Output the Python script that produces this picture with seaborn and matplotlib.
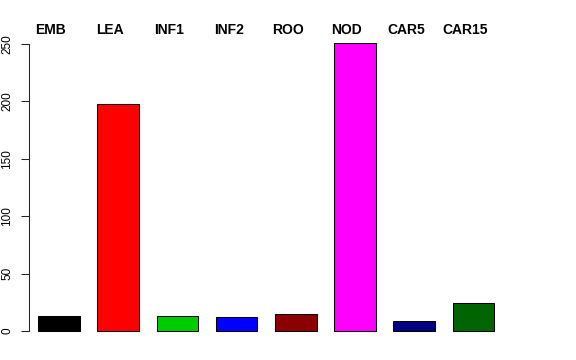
import matplotlib
matplotlib.use("Agg")
import matplotlib.pyplot as plt
import seaborn as sns
import pandas as pd

categories = ["EMB", "LEA", "INF1", "INF2", "ROO", "NOD", "CAR5", "CAR15"]
values = [13, 198, 13, 12, 14.5, 251, 9, 24]
colors = ["#000000", "#FF0000", "#00CD00", "#0000FF", "#8B0000", "#FF00FF", "#000080", "#006400"]
yticks = [0, 50, 100, 150, 200, 250]

sns.set_style("white")
plt.rcParams["font.family"] = ["Liberation Sans", "DejaVu Sans"]
plt.rcParams["text.color"] = "black"
plt.rcParams["ytick.color"] = "black"
plt.rcParams["ytick.labelcolor"] = "black"

df = pd.DataFrame({"cat": categories, "val": values})

fig = plt.figure(figsize=(5.76, 3.6), dpi=100)
ax = fig.add_axes([29 / 576, (360 - 342) / 360, (512 - 29) / 576, (342 - 31) / 360])

sns.barplot(data=df, x="cat", y="val", hue="cat", palette=colors, order=categories,
            hue_order=categories, width=0.7, edgecolor="black", linewidth=0.75,
            legend=False, ax=ax, saturation=1)

px = 59.2
ax.set_xlim(-(59 - 29) / px, -(59 - 29) / px + (512 - 29) / px)
ax.set_ylim(-(342 - 331) / 1.148, (331 - 31) / 1.148)

for s in ["top", "right", "bottom"]:
    ax.spines[s].set_visible(False)
ax.spines["left"].set_bounds(0, 250)
ax.spines["left"].set_linewidth(0.75)
ax.spines["left"].set_color("#222222")
ax.set_xticks([])
ax.set_yticks(yticks)
ax.set_yticklabels([str(t) for t in yticks], rotation=90, va="center", fontsize=8.5,
                   color="black")
ax.tick_params(axis="y", left=True, length=5.8, width=0.75, pad=5.5, color="#222222")
ax.set_xlabel("")
ax.set_ylabel("")

ylab = (331 - 34) / 1.148
for i, c in enumerate(categories):
    ax.text(i - 8 / px, ylab, c, ha="center", va="baseline", fontsize=10,
            fontweight="bold", color="black", clip_on=False)

fig.savefig("out.png", dpi=100)
